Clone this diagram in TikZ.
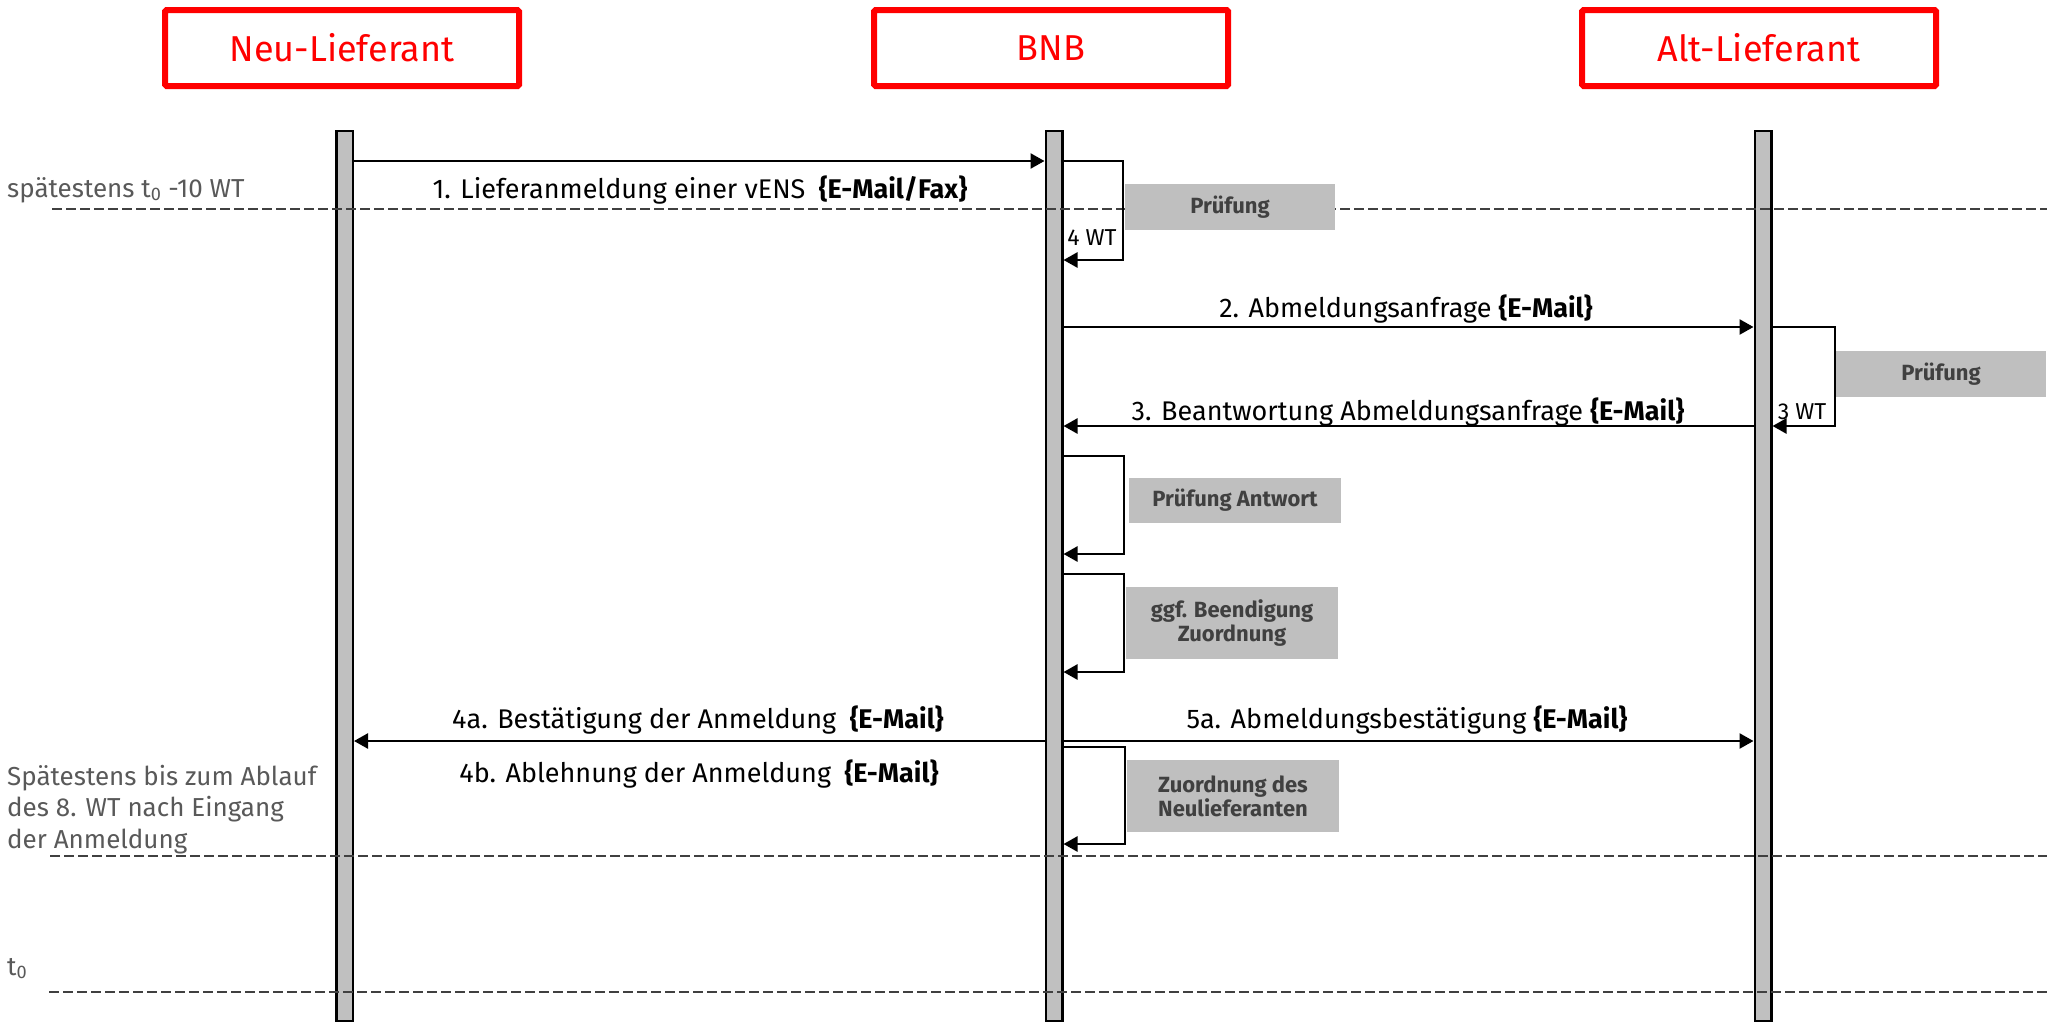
\documentclass[tikz,border=0pt]{standalone}
\usepackage{fontspec}
\setmainfont{Fira Sans}
\usetikzlibrary{arrows.meta}
\definecolor{barfill}{HTML}{C0C0C0}
\definecolor{boxfill}{HTML}{BFBFBF}
\definecolor{boxtext}{HTML}{404040}
\definecolor{dashgray}{HTML}{404040}
\definecolor{sidegray}{HTML}{595959}
\begin{document}
\begin{tikzpicture}[x=1pt,y=-1pt,
  head/.style={draw=red, line width=6pt, rounded corners=1.5pt, minimum width=354pt, minimum height=76pt, text=red, font=\fontsize{36}{42}\selectfont, inner sep=0pt},
  bar/.style={draw=black, line width=2.5pt, fill=barfill, minimum width=16.5pt, minimum height=890pt, inner sep=0pt},
  msg/.style={line width=2.5pt, -{Triangle[length=14pt,width=15pt]}},
  mlabel/.style={font=\fontsize{27}{30}\selectfont, inner sep=0pt, anchor=base},
  wt/.style={font=\fontsize{23}{26}\selectfont, inner sep=0pt, anchor=base},
  gbox/.style={fill=boxfill, text=boxtext, font=\bfseries\fontsize{22}{24}\selectfont, align=center, inner sep=0pt},
  tline/.style={line width=2.5pt, draw=dashgray, dash pattern=on 10pt off 4pt},
  side/.style={text=sidegray, font=\fontsize{26}{31.5}\selectfont, anchor=base west, align=left, inner sep=0pt}
]
\useasboundingbox (0,0) rectangle (2047,1023);

% participants
\node[head] (neu) at (342,48) {Neu-Lieferant};
\node[head] (bnb) at (1051,48) {BNB};
\node[head] (alt) at (1759,48) {Alt-Lieferant};

% lifelines
\node[bar] (Ln) at (344.5,576) {};
\node[bar] (Lb) at (1054,576) {};
\node[bar] (La) at (1763,576) {};

% time lines
\coordinate (d1a) at (52,209);  \coordinate (d1b) at (2047,209);
\coordinate (d2a) at (50,856);  \coordinate (d2b) at (2047,856);
\coordinate (d3a) at (49,992);  \coordinate (d3b) at (2047,992);
\draw[tline] (d1a) -- (d1b);
\draw[tline] (d2a) -- (d2b);
\draw[tline] (d3a) -- (d3b);

% side labels
\node[side] (s1) at (7,197) {spätestens t\textsubscript{0} -10 WT};
\node[side] (s2) at (7,848) {Spätestens bis zum Ablauf\\des 8. WT nach Eingang\\der Anmeldung};
\node[side] (s3) at (7,975) {t\textsubscript{0}};

% message levels
\coordinate (m1) at (0,161);
\coordinate (m2) at (0,327);
\coordinate (m3) at (0,426);
\coordinate (m4) at (0,741);

% loop corners
\coordinate (l1a) at (1123,161); \coordinate (l1b) at (1123,260);
\coordinate (l2a) at (1835,327); \coordinate (l2b) at (1835,426);
\coordinate (l3a) at (1124,456); \coordinate (l3b) at (1124,554);
\coordinate (l4a) at (1124,574); \coordinate (l4b) at (1124,672);
\coordinate (l5a) at (1125,747); \coordinate (l5b) at (1125,844);

% messages
\draw[msg] (Ln.east |- m1) -- (Lb.west |- m1);
\draw[msg] (Lb.east |- m2) -- (La.west |- m2);
\draw[msg] (La.west |- m3) -- (Lb.east |- m3);
\draw[msg] (Lb.west |- m4) -- (Ln.east |- m4);
\draw[msg] (Lb.east |- m4) -- (La.west |- m4);

% self loops
\draw[msg] (Lb.east |- l1a) -- (l1a) -- (l1b) -- (Lb.east |- l1b);
\draw[msg] (La.east |- l2a) -- (l2a) -- (l2b) -- (La.east |- l2b);
\draw[msg] (Lb.east |- l3a) -- (l3a) -- (l3b) -- (Lb.east |- l3b);
\draw[msg] (Lb.east |- l4a) -- (l4a) -- (l4b) -- (Lb.east |- l4b);
\draw[msg] (Lb.east |- l5a) -- (l5a) -- (l5b) -- (Lb.east |- l5b);

% gray activity boxes
\node[gbox, minimum width=210pt, minimum height=46pt] (p1) at (1230,207) {Prüfung};
\node[gbox, minimum width=210pt, minimum height=46pt] (p2) at (1941,374) {Prüfung};
\node[gbox, minimum width=212pt, minimum height=45pt] (p3) at (1235,500.5) {Prüfung Antwort};
\node[gbox, minimum width=212pt, minimum height=72pt] (p4) at (1232,623) {ggf. Beendigung\\Zuordnung};
\node[gbox, minimum width=212pt, minimum height=72pt] (p5) at (1233,796) {Zuordnung des\\Neulieferanten};

% message labels
\node[mlabel] (t1) at (700,198) {1. Lieferanmeldung einer vENS\enspace\textbf{\{E-Mail/Fax\}}};
\node[mlabel] (t2) at (1406,317) {2. Abmeldungsanfrage \textbf{\{E-Mail\}}};
\node[mlabel] (t3) at (1408,420) {3. Beantwortung Abmeldungsanfrage \textbf{\{E-Mail\}}};
\node[mlabel] (t4a) at (698,728) {4a. Bestätigung der Anmeldung\enspace\textbf{\{E-Mail\}}};
\node[mlabel] (t4b) at (699,782) {4b. Ablehnung der Anmeldung\enspace\textbf{\{E-Mail\}}};
\node[mlabel] (t5a) at (1407,728) {5a. Abmeldungsbestätigung \textbf{\{E-Mail\}}};
\node[wt] (w1) at (1092,245) {4 WT};
\node[wt] (w2) at (1802,419) {3 WT};
\end{tikzpicture}
\end{document}
